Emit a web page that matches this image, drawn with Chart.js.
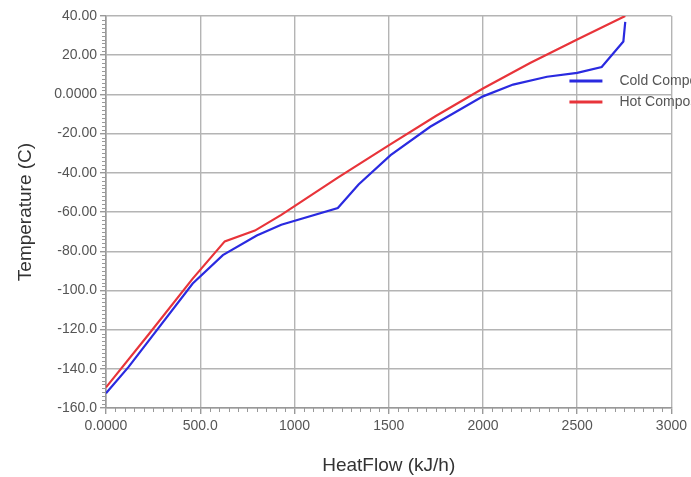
<!DOCTYPE html>
<html>
<head>
<meta charset="utf-8">
<script src="https://cdn.jsdelivr.net/npm/chart.js@4.4.1/dist/chart.umd.min.js"></script>
<style>
  html, body { margin: 0; padding: 0; background: #ffffff; }
  #wrap { width: 691px; height: 477px; }
</style>
</head>
<body>
<div id="wrap"><canvas id="c" width="691" height="477"></canvas></div>
<script>
// ---- data ----
const seriesNames = ["Cold Composite", "Hot Composite"];

const coldHeatFlow = [0, 120, 460, 620, 800, 930, 1230, 1340, 1510, 1720, 2000, 2160, 2340, 2500, 2630, 2745, 2755];
const coldTemp     = [-152.5, -139, -96.5, -82, -72, -66.5, -58, -46, -31, -16.5, -1, 5, 9, 11, 14, 27, 37];

const hotHeatFlow = [0, 230, 460, 630, 790, 930, 1230, 1500, 1750, 2000, 2250, 2500, 2755];
const hotTemp     = [-149.5, -122, -94, -75, -69.5, -61.5, -42.5, -26, -11, 3, 16, 28, 40];

const xTickValues = [0, 500, 1000, 1500, 2000, 2500, 3000];
const xTickLabels = ["0.0000", "500.0", "1000", "1500", "2000", "2500", "3000"];
const yTickValues = [40, 20, 0, -20, -40, -60, -80, -100, -120, -140, -160];
const yTickLabels = ["40.00", "20.00", "0.0000", "-20.00", "-40.00", "-60.00", "-80.00", "-100.0", "-120.0", "-140.0", "-160.0"];

const xTitle = "HeatFlow (kJ/h)";
const yTitle = "Temperature (C)";

function toPoints(xs, ys) { return xs.map((x, i) => ({ x: x, y: ys[i] })); }

const FONT = "'Liberation Sans', Arial, sans-serif";

const minorTicks = {
  id: 'minorTicks',
  afterDraw(chart) {
    const ctx = chart.ctx;
    const xs = chart.scales.x, ys = chart.scales.y;
    const a = chart.chartArea;
    ctx.save();
    ctx.strokeStyle = '#999999';
    ctx.lineWidth = 1;
    ctx.beginPath();
    for (let v = -160; v <= 40; v += 2) {
      if (v % 20 === 0) continue;
      const py = Math.round(ys.getPixelForValue(v)) + 0.5;
      ctx.moveTo(a.left - 4, py); ctx.lineTo(a.left, py);
    }
    for (let v = 0; v <= 3000; v += 50) {
      if (v % 500 === 0) continue;
      const px = Math.round(xs.getPixelForValue(v)) + 0.5;
      ctx.moveTo(px, a.bottom); ctx.lineTo(px, a.bottom + 4);
    }
    ctx.stroke();
    ctx.restore();
  }
};

const customLegend = {
  id: 'customLegend',
  afterDraw(chart) {
    const ctx = chart.ctx;
    const a = chart.chartArea;
    ctx.save();
    ctx.font = "14px " + FONT;
    ctx.textBaseline = 'middle';
    ctx.textAlign = 'left';
    const rows = [81, 102];
    chart.data.datasets.forEach((ds, i) => {
      const y = rows[i];
      const x0 = a.right - 102;
      ctx.strokeStyle = ds.borderColor;
      ctx.lineWidth = 3;
      ctx.beginPath();
      ctx.moveTo(x0, y); ctx.lineTo(x0 + 33, y);
      ctx.stroke();
      ctx.fillStyle = '#555555';
      ctx.fillText(ds.label, x0 + 50, y);
    });
    ctx.restore();
  }
};

new Chart(document.getElementById('c'), {
  type: 'scatter',
  data: {
    datasets: [
      {
        label: seriesNames[0],
        data: toPoints(coldHeatFlow, coldTemp),
        showLine: true,
        borderColor: '#2a2ae0',
        backgroundColor: '#2a2ae0',
        borderWidth: 2.2,
        pointRadius: 0,
        tension: 0
      },
      {
        label: seriesNames[1],
        data: toPoints(hotHeatFlow, hotTemp),
        showLine: true,
        borderColor: '#e8343a',
        backgroundColor: '#e8343a',
        borderWidth: 2.2,
        pointRadius: 0,
        tension: 0
      }
    ]
  },
  options: {
    responsive: false,
    animation: false,
    devicePixelRatio: 1,
    layout: { padding: { top: 16, right: 19, left: 0, bottom: 0 } },
    plugins: {
      legend: { display: false },
      tooltip: { enabled: false }
    },
    scales: {
      x: {
        type: 'linear',
        min: 0, max: 3000,
        afterBuildTicks(scale) { scale.ticks = xTickValues.map(v => ({ value: v })); },
        afterFit(scale) { scale.height = 69; },
        ticks: {
          autoSkip: false,
          maxRotation: 0,
          padding: 4,
          color: '#555555',
          font: { family: FONT, size: 14 },
          callback(value) { const i = xTickValues.indexOf(value); return i >= 0 ? xTickLabels[i] : ''; }
        },
        grid: { color: '#b4b4b4', lineWidth: 1.4, tickLength: 6, tickColor: '#999999' },
        border: { color: '#999999', width: 1.6 },
        title: {
          display: true,
          text: xTitle,
          color: '#333333',
          font: { family: FONT, size: 19 },
          padding: { top: 0, bottom: 0 }
        }
      },
      y: {
        type: 'linear',
        min: -160, max: 40,
        afterBuildTicks(scale) { scale.ticks = yTickValues.map(v => ({ value: v })); },
        afterFit(scale) { scale.width = 106; },
        ticks: {
          autoSkip: false,
          padding: 3,
          color: '#555555',
          font: { family: FONT, size: 14 },
          callback(value) { const i = yTickValues.indexOf(value); return i >= 0 ? yTickLabels[i] : ''; }
        },
        grid: { color: '#b4b4b4', lineWidth: 1.4, tickLength: 6, tickColor: '#999999' },
        border: { color: '#999999', width: 1.6 },
        title: {
          display: true,
          text: yTitle,
          color: '#333333',
          font: { family: FONT, size: 19 },
          padding: { top: 14, bottom: 0 }
        }
      }
    }
  },
  plugins: [minorTicks, customLegend]
});
</script>
</body>
</html>
